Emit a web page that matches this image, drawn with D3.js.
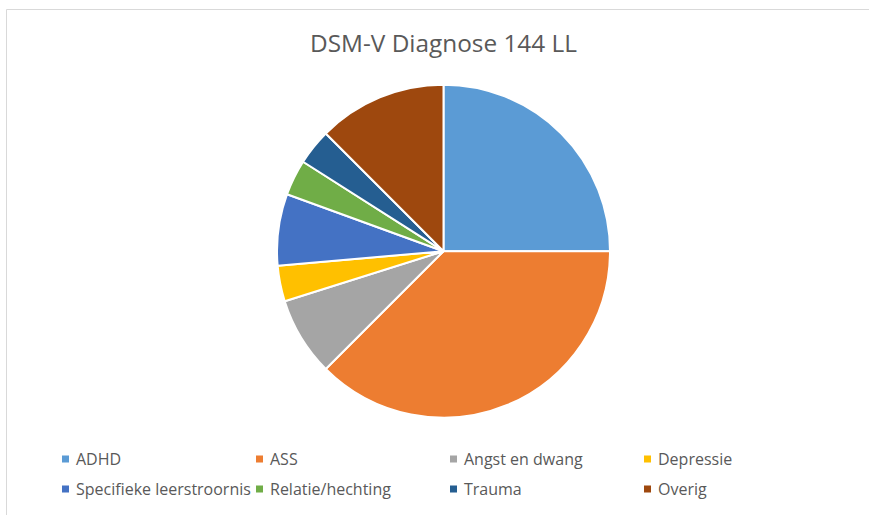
<!DOCTYPE html>
<html>
<head>
<meta charset="utf-8">
<script src="https://cdn.jsdelivr.net/npm/d3@7"></script>
<style>
  html, body { margin: 0; padding: 0; background: #fff; }
  svg { display: block; }
</style>
</head>
<body>
<div id="chart"></div>
<script>
const categories = ['ADHD', 'ASS', 'Angst en dwang', 'Depressie',
  'Specifieke leerstroornis', 'Relatie/hechting', 'Trauma', 'Overig'];
const counts = [36, 54, 11, 5, 10, 5, 5, 18];
const colors = ['#5B9BD5', '#ED7D31', '#A5A5A5', '#FFC000',
  '#4472C4', '#70AD47', '#255E91', '#9E480E'];
const title = 'DSM-V Diagnose 144 LL';

const width = 869;
const height = 515;
const cx = 443.5;
const cy = 251.2;
const radius = 166.5;

const svg = d3.select('#chart').append('svg')
  .attr('width', width)
  .attr('height', height)
  .attr('viewBox', [0, 0, width, height]);

// chart area frame (only top and left edges are inside the shot)
svg.append('path')
  .attr('d', `M6.5,${height}V9.5H${width}`)
  .attr('fill', 'none')
  .attr('stroke', '#d9d9d9')
  .attr('stroke-width', 1);

const titleText = svg.append('text')
  .attr('x', cx)
  .attr('y', 52)
  .attr('text-anchor', 'middle')
  .attr('fill', '#595959')
  .attr('font-family', 'Open Sans, sans-serif')
  .attr('font-size', 23)
  .text(title);

// fit the title to the width seen in the reference
const tw = titleText.node().getComputedTextLength();
titleText.attr('font-size', 23 * 267 / tw);

const data = categories.map((c, i) => ({ name: c, value: counts[i], color: colors[i] }));

const pie = d3.pie()
  .sort(null)
  .value(d => d.value)
  .startAngle(0)
  .endAngle(2 * Math.PI);

const arc = d3.arc()
  .innerRadius(0)
  .outerRadius(radius);

svg.append('g')
  .attr('transform', `translate(${cx},${cy})`)
  .selectAll('path')
  .data(pie(data))
  .join('path')
  .attr('d', arc)
  .attr('fill', d => d.data.color)
  .attr('stroke', '#fff')
  .attr('stroke-width', 2)
  .attr('stroke-linejoin', 'round');

// legend: 4 columns, 2 rows
const colX = d3.scaleBand().domain(d3.range(4)).range([62, 838]);
const rowY = d3.scaleBand().domain(d3.range(2)).range([444, 504]);

const legend = svg.append('g')
  .selectAll('g')
  .data(data)
  .join('g')
  .attr('transform', (d, i) => `translate(${colX(i % 4)},${rowY(Math.floor(i / 4)) + 15})`);

legend.append('rect')
  .attr('x', 0)
  .attr('y', -3.5)
  .attr('width', 7)
  .attr('height', 7)
  .attr('fill', d => d.color);

legend.append('text')
  .attr('x', 14)
  .attr('y', 0)
  .attr('dy', '0.35em')
  .attr('fill', '#595959')
  .attr('font-family', 'Open Sans, sans-serif')
  .attr('font-size', 16)
  .text(d => d.name);
</script>
</body>
</html>
